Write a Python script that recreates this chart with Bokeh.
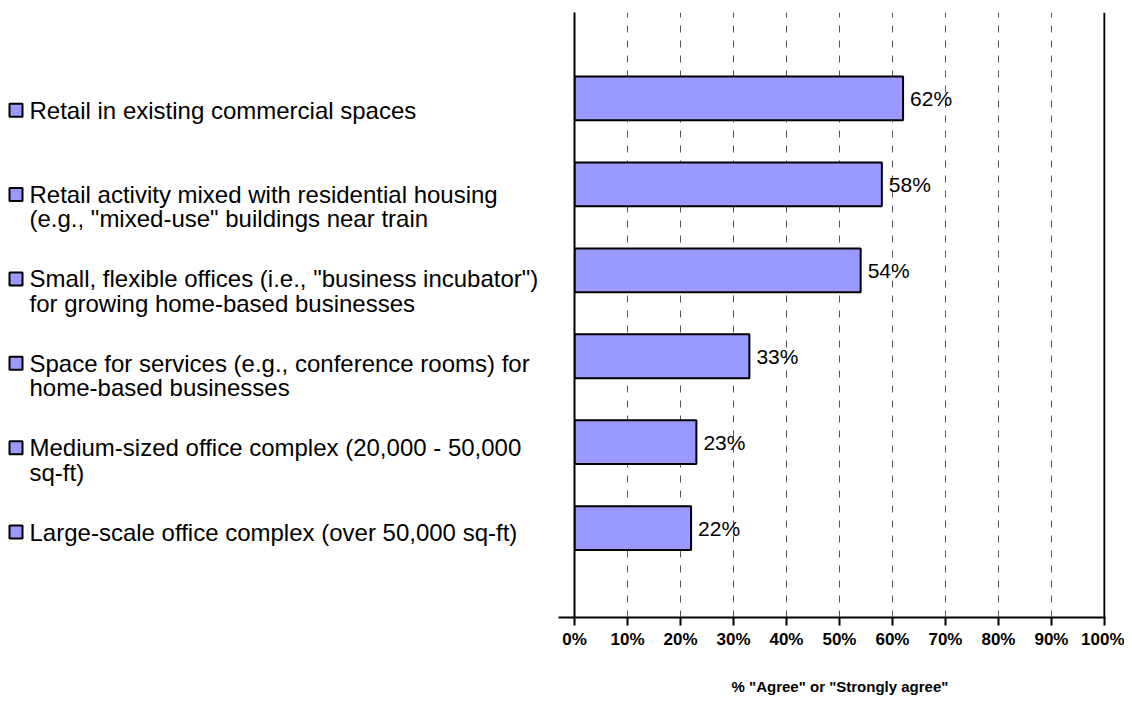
from bokeh.plotting import figure
from bokeh.layouts import row
from bokeh.models import Range1d, FixedTicker, Span, ColumnDataSource
from bokeh.core.properties import value
from bokeh.embed import file_html
from bokeh.resources import INLINE

# ---- data ----
categories = [
    "Retail in existing commercial spaces",
    "Retail activity mixed with residential housing\n(e.g., \"mixed-use\" buildings near train",
    "Small, flexible offices (i.e., \"business incubator\")\nfor growing home-based businesses",
    "Space for services (e.g., conference rooms) for\nhome-based businesses",
    "Medium-sized office complex (20,000 - 50,000\nsq-ft)",
    "Large-scale office complex (over 50,000 sq-ft)",
]
values_pct = [62, 58, 54, 33, 23, 22]
value_labels = ["62%", "58%", "54%", "33%", "23%", "22%"]
tick_values = [0, 10, 20, 30, 40, 50, 60, 70, 80, 90, 100]
tick_labels = ["0%", "10%", "20%", "30%", "40%", "50%", "60%", "70%", "80%", "90%", "100%"]
axis_title = '% "Agree" or "Strongly agree"'

FONT = "Liberation Sans"
BAR_COLOR = "#9999FF"
H = 697
TOP, BOTTOM = 12, 74

n = len(categories)
ypos = [n - i for i in range(n)]  # top bar at n
yr = Range1d(-0.04, 7.0)

# ---- chart (right) ----
src = ColumnDataSource(dict(y=ypos, v=values_pct, lbl=value_labels))
p = figure(width=566, height=H,
           x_range=Range1d(0, 100.2), y_range=yr,
           output_backend="svg", toolbar_location=None,
           min_border_left=16, min_border_right=19,
           min_border_top=TOP, min_border_bottom=BOTTOM)
p.outline_line_color = None

p.ygrid.visible = False
p.xgrid.ticker = FixedTicker(ticks=tick_values[1:-1])
p.xgrid.grid_line_color = "#555555"
p.xgrid.grid_line_dash = "7 8"
p.xgrid.grid_line_width = 1

p.hbar(y="y", right="v", left=0, height=0.51, source=src,
       fill_color=BAR_COLOR, line_color="black", line_width=2)
p.text(x="v", y="y", text="lbl", source=src, x_offset=7,
       text_baseline="middle", text_align="left",
       text_font=value(FONT), text_font_size="21px", text_color="black")

p.add_layout(Span(location=tick_values[-1], dimension="height",
                  line_color="black", line_width=2))

# left (category) axis: only the line and one tick at the bottom
yax = p.yaxis[0]
yax.ticker = FixedTicker(ticks=[yr.start])
yax.major_label_overrides = {yr.start: ""}
yax.major_label_text_font_size = "0px"
yax.major_label_standoff = 0
yax.axis_line_color = "black"
yax.axis_line_width = 2
yax.major_tick_line_color = "black"
yax.major_tick_line_width = 2
yax.major_tick_out = 16
yax.major_tick_in = 0
yax.minor_tick_line_color = None

ax = p.xaxis[0]
ax.ticker = FixedTicker(ticks=tick_values)
ax.major_label_overrides = {v: l for v, l in zip(tick_values, tick_labels)}
ax.axis_line_color = "black"
ax.axis_line_width = 2
ax.major_tick_line_color = "black"
ax.major_tick_line_width = 2
ax.major_tick_out = 8
ax.major_tick_in = 0
ax.minor_tick_line_color = None
ax.major_label_text_font = FONT
ax.major_label_text_font_style = "bold"
ax.major_label_text_font_size = "17px"
ax.major_label_text_color = "black"
ax.major_label_standoff = 4
ax.axis_label = axis_title
ax.axis_label_text_font = FONT
ax.axis_label_text_font_style = "bold"
ax.axis_label_text_font_size = "15px"
ax.axis_label_text_color = "black"
ax.axis_label_standoff = 26

# ---- category labels (left), sharing the vertical scale ----
L = figure(width=558, height=H, x_range=Range1d(0, 558), y_range=yr,
           output_backend="svg", toolbar_location=None,
           x_axis_location=None, y_axis_location=None,
           min_border_left=0, min_border_right=0,
           min_border_top=TOP, min_border_bottom=BOTTOM)
L.outline_line_color = None
L.grid.visible = False

label_first = ypos[0] - 0.136    # first label line, just under bar 1 centre
label_step = 0.982               # legend rows are slightly tighter than bars
line_gap = 0.283                 # second text line
sq_x, txt_x = 15.5, 29

lx, ly, lt, sy = [], [], [], []
for i, cat in enumerate(categories):
    y0 = label_first - label_step * i
    sy.append(y0)
    for k, line in enumerate(cat.split("\n")):
        lx.append(txt_x)
        ly.append(y0 - k * line_gap)
        lt.append(line)

L.scatter(x=[sq_x] * n, y=sy, marker="square", size=13,
          fill_color=BAR_COLOR, line_color="black", line_width=2)
L.text(x=lx, y=ly, text=lt, text_baseline="middle", text_align="left",
       text_font=value(FONT), text_font_size="24px", text_color="black")

layout = row(L, p)
open("out.html", "w").write(file_html(layout, INLINE))
